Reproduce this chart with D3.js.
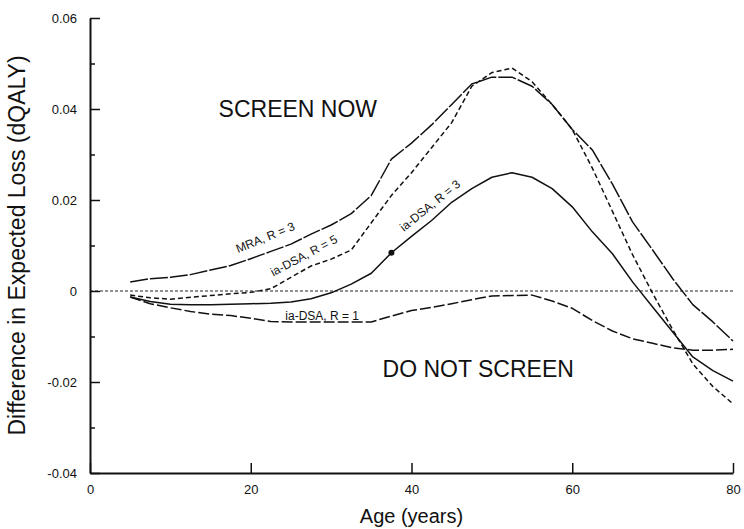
<!DOCTYPE html>
<html>
<head>
<meta charset="utf-8">
<script src="https://cdn.jsdelivr.net/npm/d3@7"></script>
<style>
  html, body { margin: 0; padding: 0; background: #fff; }
  svg { display: block; font-family: "Liberation Sans", Arial, Helvetica, sans-serif; }
</style>
</head>
<body>
<svg id="chart" width="744" height="529"></svg>
<script>
// ---- data ----
const ages = [5, 7.5, 10, 12.5, 15, 17.5, 20, 22.5, 25, 27.5, 30, 32.5, 35, 37.5, 40,
  42.5, 45, 47.5, 50, 52.5, 55, 57.5, 60, 62.5, 65, 67.5, 70, 72.5, 75, 77.5, 80];

const mraR3 = [0.0020, 0.0027, 0.0030, 0.0036, 0.0046, 0.0056, 0.0071, 0.0087, 0.0103, 0.0125,
  0.0145, 0.0170, 0.0210, 0.0290, 0.0325, 0.0365, 0.0410, 0.0455, 0.0470, 0.0470,
  0.0450, 0.0410, 0.0355, 0.0310, 0.0235, 0.0152, 0.0090, 0.0027, -0.0030, -0.0068, -0.0110];

const iaDsaR5 = [-0.0009, -0.0015, -0.0018, -0.0014, -0.0010, -0.0006, -0.0003, 0.0005, 0.0030, 0.0055,
  0.0070, 0.0090, 0.0150, 0.0210, 0.0260, 0.0315, 0.0370, 0.0450, 0.0480, 0.0490,
  0.0460, 0.0410, 0.0355, 0.0270, 0.0175, 0.0080, -0.0005, -0.0085, -0.0160, -0.0210, -0.0248];

const iaDsaR3 = [-0.0013, -0.0023, -0.0029, -0.0030, -0.0030, -0.0029, -0.0028, -0.0027, -0.0024, -0.0017,
  -0.0004, 0.0015, 0.0039, 0.0084, 0.0120, 0.0155, 0.0195, 0.0225, 0.0250, 0.0260,
  0.0250, 0.0225, 0.0185, 0.0130, 0.0082, 0.0020, -0.0035, -0.0090, -0.0145, -0.0175, -0.0198];

const iaDsaR1 = [-0.0013, -0.0028, -0.0037, -0.0045, -0.0051, -0.0054, -0.0060, -0.0067, -0.0068, -0.0068,
  -0.0068, -0.0068, -0.0068, -0.0055, -0.0043, -0.0036, -0.0028, -0.0019, -0.0011, -0.0010,
  -0.0009, -0.0022, -0.0038, -0.0065, -0.0088, -0.0105, -0.0115, -0.0125, -0.0130, -0.0130, -0.0128];

const seriesNames = ["MRA, R = 3", "ia-DSA, R = 5", "ia-DSA, R = 3", "ia-DSA, R = 1"];
const markerAge = [37.5];
const markerValue = [0.0084];

const xTicks = [0, 20, 40, 60, 80];
const yTicks = [-0.04, -0.02, 0, 0.02, 0.04, 0.06];
const yTickLabels = ["-0.04", "-0.02", "0", "0.02", "0.04", "0.06"];
const yMinorTicks = [-0.03, -0.01, 0.01, 0.03, 0.05];

// ---- layout ----
const svg = d3.select("#chart");
const mLeft = 90, mRight = 733, mTop = 18, mBottom = 473;

const x = d3.scaleLinear().domain([0, 80]).range([mLeft, mRight]);
const y = d3.scaleLinear().domain([-0.04, 0.06]).range([mBottom, mTop]);

// zero reference line
svg.append("line")
  .attr("x1", x(0)).attr("x2", x(80))
  .attr("y1", y(0)).attr("y2", y(0))
  .attr("stroke", "#222").attr("stroke-width", 1)
  .attr("stroke-dasharray", "3,2");

// curves
const styles = [
  { dash: "18,2", width: 1.5 },
  { dash: "5,3", width: 1.5 },
  { dash: null, width: 1.5 },
  { dash: "11,3", width: 1.5 }
];
const allSeries = [mraR3, iaDsaR5, iaDsaR3, iaDsaR1];
const line = d3.line().x(d => x(d[0])).y(d => y(d[1]));

allSeries.forEach((vals, i) => {
  const pts = ages.map((a, k) => [a, vals[k]]);
  svg.append("path")
    .datum(pts)
    .attr("d", line)
    .attr("fill", "none")
    .attr("stroke", "#111")
    .attr("stroke-width", styles[i].width)
    .attr("stroke-linejoin", "round")
    .attr("stroke-dasharray", styles[i].dash);
});

// marker dot on ia-DSA R = 3
svg.selectAll("circle.marker")
  .data(markerAge.map((a, k) => [a, markerValue[k]]))
  .enter().append("circle")
  .attr("class", "marker")
  .attr("cx", d => x(d[0])).attr("cy", d => y(d[1]))
  .attr("r", 3).attr("fill", "#111");

// axes
const yAxis = d3.axisLeft(y).tickValues(yTicks)
  .tickFormat((d, i) => yTickLabels[i])
  .tickSizeInner(-10).tickSizeOuter(0).tickPadding(13);
const gy = svg.append("g").attr("transform", `translate(${mLeft},0)`).call(yAxis);

const yMinor = d3.axisLeft(y).tickValues(yMinorTicks).tickFormat("")
  .tickSizeInner(-5).tickSizeOuter(0);
const gym = svg.append("g").attr("transform", `translate(${mLeft},0)`).call(yMinor);
gym.select(".domain").remove();

const xAxis = d3.axisBottom(x).tickValues(xTicks).tickFormat(d3.format("d"))
  .tickSizeInner(-10).tickSizeOuter(0).tickPadding(12);
const gx = svg.append("g").attr("transform", `translate(0,${mBottom})`).call(xAxis);

[gy, gym, gx].forEach(g => {
  g.select(".domain").attr("stroke", "#111").attr("stroke-width", 2);
  g.selectAll(".tick line").attr("stroke", "#111").attr("stroke-width", 1.5);
  g.selectAll(".tick text").attr("fill", "#111")
    .style("font-family", "'Liberation Sans', Arial, sans-serif")
    .style("font-size", "13px");
});
gx.selectAll(".tick text").attr("dy", "0.71em");

// axis titles
svg.append("text")
  .attr("x", (mLeft + mRight) / 2).attr("y", 523)
  .attr("text-anchor", "middle")
  .style("font-size", "20px").attr("fill", "#111")
  .text("Age (years)");

svg.append("text")
  .attr("transform", `translate(25,${(mTop + mBottom) / 2}) rotate(-90)`)
  .attr("text-anchor", "middle")
  .style("font-size", "23px").attr("fill", "#111")
  .text("Difference in Expected Loss (dQALY)");

// region annotations
svg.append("text")
  .attr("x", x(16)).attr("y", y(0.0382))
  .style("font-size", "23px").attr("fill", "#111")
  .text("SCREEN NOW");

svg.append("text")
  .attr("x", x(36.4)).attr("y", y(-0.0189))
  .style("font-size", "23px").attr("fill", "#111")
  .text("DO NOT SCREEN");

// curve labels
const curveLabels = [
  { text: seriesNames[0], age: 21.8, val: 0.0118, rot: -22, anchor: "middle" },
  { text: seriesNames[1], age: 26.6, val: 0.0078, rot: -28, anchor: "middle" },
  { text: seriesNames[2], age: 42.3, val: 0.0188, rot: -39, anchor: "middle" },
  { text: seriesNames[3], age: 24.3, val: -0.0064, rot: 0, anchor: "start" }
];
curveLabels.forEach(l => {
  svg.append("text")
    .attr("transform", `translate(${x(l.age)},${y(l.val)}) rotate(${l.rot})`)
    .attr("text-anchor", l.anchor)
    .attr("dy", l.rot === 0 ? 0 : "0.35em")
    .style("font-size", "12px").attr("fill", "#111")
    .text(l.text);
});
</script>
</body>
</html>
